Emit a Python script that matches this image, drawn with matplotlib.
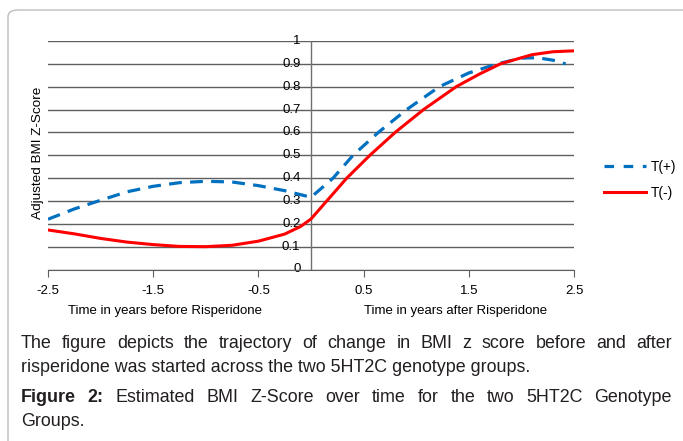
import matplotlib
matplotlib.use("Agg")
import matplotlib.pyplot as plt
from matplotlib.patches import FancyBboxPatch
from matplotlib.lines import Line2D

# values
t_plus_x = [-2.5, -2.25, -2.0, -1.75, -1.5, -1.25, -1.0, -0.75, -0.5, -0.25, 0.0,
            0.21, 0.40, 0.64, 0.91, 1.22, 1.5, 1.77, 2.0, 2.15, 2.3, 2.42]
t_plus_y = [0.22, 0.265, 0.303, 0.34, 0.364, 0.38, 0.386, 0.383, 0.367, 0.345, 0.316,
            0.40, 0.50, 0.60, 0.70, 0.80, 0.86, 0.90, 0.925, 0.927, 0.916, 0.90]

t_minus_x = [-2.5, -2.25, -2.0, -1.75, -1.5, -1.25, -1.0, -0.75, -0.5, -0.25, -0.1, 0.0,
             0.15, 0.34, 0.56, 0.80, 1.07, 1.38, 1.6, 1.80, 2.1, 2.3, 2.5]
t_minus_y = [0.173, 0.156, 0.136, 0.12, 0.109, 0.101, 0.10, 0.106, 0.124, 0.155, 0.188, 0.221,
             0.30, 0.40, 0.50, 0.60, 0.70, 0.80, 0.855, 0.90, 0.94, 0.953, 0.957]

x_ticks = [-2.5, -1.5, -0.5, 0.5, 1.5, 2.5]
y_ticks = [0, 0.1, 0.2, 0.3, 0.4, 0.5, 0.6, 0.7, 0.8, 0.9, 1]
y_tick_labels = ["0", "0.1", "0.2", "0.3", "0.4", "0.5", "0.6", "0.7", "0.8", "0.9", "1"]
series_labels = ["T(+)", "T(-)"]
x_sub_labels = ["Time in years before Risperidone", "Time in years after Risperidone"]
caption = [
    [("The", "normal"), ("figure", "normal"), ("depicts", "normal"), ("the", "normal"),
     ("trajectory", "normal"), ("of", "normal"), ("change", "normal"), ("in", "normal"),
     ("BMI", "normal"), ("z", "normal"), ("score", "normal"), ("before", "normal"),
     ("and", "normal"), ("after", "normal")],
    "risperidone was started across the two 5HT2C genotype groups.",
    [("Figure", "bold"), ("2:", "bold"), ("Estimated", "normal"), ("BMI", "normal"),
     ("Z-Score", "normal"), ("over", "normal"), ("time", "normal"), ("for", "normal"),
     ("the", "normal"), ("two", "normal"), ("5HT2C", "normal"), ("Genotype", "normal")],
    "Groups.",
]

BLUE = "#0070C0"
RED = "#FF0000"
GRID = "#5f5f5f"

plt.rcParams["font.family"] = ["Liberation Sans", "DejaVu Sans"]

W, H = 683, 441
fig = plt.figure(figsize=(W / 100, H / 100), dpi=100)

# rounded frame around the figure block
frame = FancyBboxPatch((8 / W, -0.05), 1.1, 1 - 10 / H + 0.05,
                       boxstyle="round,pad=0,rounding_size=0.015",
                       transform=fig.transFigure, facecolor="none",
                       edgecolor="#bdbdbd", linewidth=1.0)
fig.patches.append(frame)

ax = fig.add_axes([48 / W, 1 - 269.5 / H, 526 / W, 228.5 / H])
ax.set_xlim(-2.5, 2.5)
ax.set_ylim(0, 1)

for y in y_ticks:
    ax.axhline(y, color=GRID, lw=1.0, zorder=1)
ax.axvline(0, color="#707070", lw=1.0, zorder=1)

ax.plot(t_plus_x, t_plus_y, color=BLUE, lw=2.3, dashes=(4.0, 2.6),
        label=series_labels[0], zorder=3)
ax.plot(t_minus_x, t_minus_y, color=RED, lw=2.2, label=series_labels[1], zorder=3)

for s in ["top", "right", "left"]:
    ax.spines[s].set_visible(False)
ax.spines["bottom"].set_color(GRID)
ax.set_yticks([])
ax.set_xticks(x_ticks)
ax.set_xticklabels([f"{v:g}" for v in x_ticks], fontsize=9.5)
ax.tick_params(axis="x", direction="out", length=5, color=GRID, pad=6)

for y, lab in zip(y_ticks, y_tick_labels):
    ax.text(-0.1, y, lab, ha="right", va="center", fontsize=9.5, zorder=2)

ax.text(-1.39, -0.182, x_sub_labels[0], transform=ax.get_xaxis_transform(),
        ha="center", va="center", fontsize=9.5)
ax.text(1.37, -0.182, x_sub_labels[1], transform=ax.get_xaxis_transform(),
        ha="center", va="center", fontsize=9.5)

fig.text(38 / W, 1 - 153 / H, "Adjusted BMI Z-Score", rotation=90,
         ha="center", va="center", fontsize=9.7)

# legend drawn at the right of the plot
fig.legend(handles=[Line2D([], [], color=BLUE, lw=2.3, dashes=(3.0, 3.0)),
                    Line2D([], [], color=RED, lw=2.2)],
           labels=series_labels, loc="center left",
           bbox_to_anchor=(592 / W, 1 - 180 / H), frameon=False,
           fontsize=9.8, handlelength=3.1, handletextpad=0.3, labelspacing=0.9)

# caption, justified like the journal layout
renderer = fig.canvas.get_renderer()
x0, x1 = 21, 672
line_y = [344, 368, 398, 421]
cap_size = 12.9
for line, py in zip(caption, line_y):
    yf = 1 - py / H
    if isinstance(line, str):
        fig.text(x0 / W, yf, line, ha="left", va="center", fontsize=cap_size,
                 color="#231f20")
        continue
    texts = [fig.text(0, yf, w, ha="left", va="center", fontsize=cap_size,
                      fontweight=wt, color="#231f20") for w, wt in line]
    widths = [t.get_window_extent(renderer).width for t in texts]
    gap = ((x1 - x0) - sum(widths)) / (len(texts) - 1)
    xx = x0
    for t, wd in zip(texts, widths):
        t.set_x(xx / W)
        xx += wd + gap

fig.savefig("out.png", dpi=100)
